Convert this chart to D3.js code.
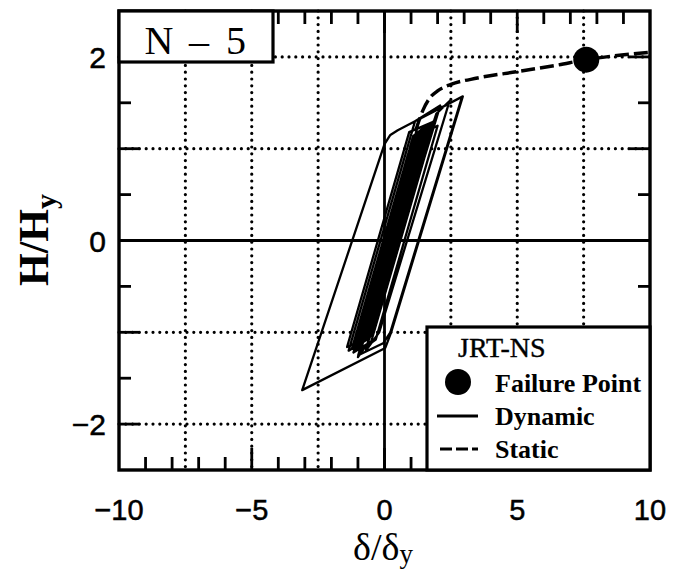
<!DOCTYPE html>
<html><head><meta charset="utf-8">
<script src="https://cdn.jsdelivr.net/npm/d3@7"></script>
<style>html,body{margin:0;padding:0;background:#fff;} svg{display:block;}</style>
</head><body>
<svg id="chart" width="684" height="570"></svg>
<script>
// ---------- data ----------
const xDomain = [-10, 10];
const yDomain = [-2.5, 2.5];
const xTickLabels = [-10, -5, 0, 5, 10];
const yTickLabels = [-2, 0, 2];
const gridX = [-7.5, -5, -2.5, 2.5, 5, 7.5];
const gridY = [-2, -1, 1, 2];
const staticCurve = [
  [0,0],[0.6,0.6],[1.2,1.22],[1.45,1.42],[1.7,1.55],[2.0,1.63],[2.5,1.70],
  [3.5,1.77],[5.0,1.84],[6.5,1.91],[7.6,1.97],[8.6,2.01],[10,2.05]
];
const dynamicResponse = [
  [0,0],
  [1.10,1.10],[1.42,1.22],
  [-0.86,-1.06],[-1.23,-1.18],
  [1.09,1.14],[1.61,1.26],
  [-0.73,-1.08],[-1.10,-1.20],
  [1.26,1.16],[1.73,1.28],
  [-0.59,-1.04],[-1.41,-1.16],
  [0.93,1.18],[1.90,1.30],
  [-0.50,-1.10],[-1.17,-1.22],
  [1.18,1.13],[2.00,1.25],
  [-0.33,-1.08],[-0.90,-1.20],
  [1.48,1.18],[1.85,1.30],
  [-0.48,-1.03],[-1.00,-1.15],
  [1.30,1.15],[1.67,1.27],
  [-0.68,-1.08],[-1.35,-1.20],
  [1.15,1.30],[2.10,1.47],
  [-0.63,-1.12],[-1.00,-1.27],
  [1.95,1.38],[2.45,1.52],
  [-0.20,-1.00],[-0.70,-1.20],
  [1.30,1.32],[2.95,1.57],
  [0.25,-1.00],[0.03,-1.17],
  [-3.10,-1.63],
  [0.00,1.05],[0.22,1.15],[0.50,1.20],
  [2.92,1.565],
  [0.22,-1.00],[-0.05,-1.12],
  [-0.99,-1.25],
  [1.42,1.16],[1.78,1.28],
  [-0.56,-1.06],[-1.18,-1.18],
  [1.12,1.12],[1.54,1.24],
  [-0.70,-1.00],[-0.92,-1.12],
  [0.35,0.15]
];
const failurePoint = [7.6, 1.97];
const specimenLabel = ["N", "–", "5"];
const legendTitle = "JRT-NS";
const legendLabels = ["Failure Point", "Dynamic", "Static"];
const xTitle = "δ/δ";
const yTitle = "H/H";
const subTitle = "y";

// ---------- layout ----------
const svg = d3.select("#chart");
const L = 119, R = 650, T = 11, B = 470;
const x = d3.scaleLinear().domain(xDomain).range([L, R]);
const y = d3.scaleLinear().domain(yDomain).range([B, T]);
const serif = "'Liberation Serif','Times New Roman',serif";
const sans = "'Liberation Sans',Arial,Helvetica,sans-serif";

svg.append("rect").attr("width",684).attr("height",570).attr("fill","#fff");

const g = svg.append("g");
// dotted grid
function dotted(sel){
  return sel.attr("stroke","#000").attr("stroke-width",3.2)
    .attr("stroke-dasharray","0 6.8").attr("stroke-linecap","round");
}
dotted(g.selectAll(".gx").data(gridX).join("line")
  .attr("x1",d=>x(d)).attr("x2",d=>x(d)).attr("y1",T).attr("y2",B));
dotted(g.selectAll(".gy").data(gridY).join("line")
  .attr("y1",d=>y(d)).attr("y2",d=>y(d)).attr("x1",L).attr("x2",R));
// zero lines
g.append("line").attr("x1",x(0)).attr("x2",x(0)).attr("y1",T).attr("y2",B).attr("stroke","#000").attr("stroke-width",2.8);
g.append("line").attr("y1",y(0)).attr("y2",y(0)).attr("x1",L).attr("x2",R).attr("stroke","#000").attr("stroke-width",2.8);

// ticks (inward, all four sides)
const xt = x.ticks(20).filter(v=>v>xDomain[0] && v<xDomain[1]);
const yt = y.ticks(10).filter(v=>v>yDomain[0] && v<yDomain[1]);
const tl = v => (v % 5 === 0 ? 22 : 13);
const yl = v => (Number.isInteger(v) ? 20 : 12);
const tk = g.append("g").attr("stroke","#000").attr("stroke-width",2.8);
tk.selectAll(".tb").data(xt).join("line").attr("x1",d=>x(d)).attr("x2",d=>x(d)).attr("y1",B).attr("y2",d=>B-tl(d));
tk.selectAll(".tt").data(xt).join("line").attr("x1",d=>x(d)).attr("x2",d=>x(d)).attr("y1",T).attr("y2",d=>T+tl(d));
tk.selectAll(".tlft").data(yt).join("line").attr("y1",d=>y(d)).attr("y2",d=>y(d)).attr("x1",L).attr("x2",d=>L+yl(d));
tk.selectAll(".trt").data(yt).join("line").attr("y1",d=>y(d)).attr("y2",d=>y(d)).attr("x1",R).attr("x2",d=>R-yl(d));

// static curve
g.append("path").datum(staticCurve)
  .attr("d", d3.line().x(d=>x(d[0])).y(d=>y(d[1])).curve(d3.curveMonotoneX))
  .attr("fill","none").attr("stroke","#000").attr("stroke-width",3.4)
  .attr("stroke-dasharray","14 5");
// dynamic response
g.append("path").datum(dynamicResponse)
  .attr("d", d3.line().x(d=>x(d[0])).y(d=>y(d[1])).curve(d3.curveLinear))
  .attr("fill","none").attr("stroke","#000").attr("stroke-width",2.3)
  .attr("stroke-linejoin","round");
// failure point
g.append("circle").attr("cx",x(failurePoint[0])).attr("cy",y(failurePoint[1])).attr("r",13).attr("fill","#000");

// frame
g.append("rect").attr("x",L).attr("y",T).attr("width",R-L).attr("height",B-T)
  .attr("fill","none").attr("stroke","#000").attr("stroke-width",3.4);

// specimen label box
g.append("rect").attr("x",L).attr("y",T).attr("width",154).attr("height",51)
  .attr("fill","#fff").attr("stroke","#000").attr("stroke-width",3.2);
const sx = [159, 199, 236];
g.selectAll(".sp").data(specimenLabel).join("text")
  .attr("x",(d,i)=>sx[i]).attr("y",54).attr("text-anchor","middle")
  .attr("font-family",serif).attr("font-size",40).text(d=>d);

// legend
const lg = g.append("g");
lg.append("rect").attr("x",427).attr("y",327).attr("width",R-427).attr("height",B-327)
  .attr("fill","#fff").attr("stroke","#000").attr("stroke-width",3.2);
lg.append("text").attr("x",458).attr("y",357).attr("font-family",serif).attr("font-size",28)
  .attr("stroke","#000").attr("stroke-width",0.4).text(legendTitle);
lg.append("circle").attr("cx",458).attr("cy",382).attr("r",13).attr("fill","#000");
lg.append("line").attr("x1",437).attr("x2",478).attr("y1",416).attr("y2",416).attr("stroke","#000").attr("stroke-width",3);
lg.append("line").attr("x1",437).attr("x2",478).attr("y1",449).attr("y2",449).attr("stroke","#000").attr("stroke-width",3).attr("stroke-dasharray","12 4").attr("stroke-dashoffset",-3);
const ly = [392, 425, 458];
lg.selectAll(".lt").data(legendLabels).join("text")
  .attr("x",495).attr("y",(d,i)=>ly[i]).attr("font-family",serif).attr("font-weight","bold")
  .attr("font-size",26).text(d=>d);

// tick labels
g.selectAll(".xl").data(xTickLabels).join("text")
  .attr("x",d=>x(d)).attr("y",520).attr("text-anchor","middle")
  .attr("font-family",sans).attr("font-size",29).attr("stroke","#000").attr("stroke-width",0.5)
  .text(d=>d<0?"−"+Math.abs(d):d);
g.selectAll(".yl").data(yTickLabels).join("text")
  .attr("x",106).attr("y",d=>y(d)+11).attr("text-anchor","end")
  .attr("font-family",sans).attr("font-size",30).attr("stroke","#000").attr("stroke-width",0.5)
  .text(d=>d<0?"−"+Math.abs(d):d);

// axis titles
const xtT = g.append("text").attr("x",383).attr("y",560).attr("text-anchor","middle")
  .attr("font-family",serif).attr("font-size",38);
xtT.append("tspan").text(xTitle);
xtT.append("tspan").attr("font-size",27).attr("dy",3).text(subTitle);
const ytT = g.append("text").attr("transform","translate(48,240) rotate(-90)").attr("text-anchor","middle")
  .attr("font-family",serif).attr("font-weight","bold").attr("font-size",42);
ytT.append("tspan").text(yTitle);
ytT.append("tspan").attr("font-size",30).attr("dy",8).text(subTitle);
</script>
</body></html>
